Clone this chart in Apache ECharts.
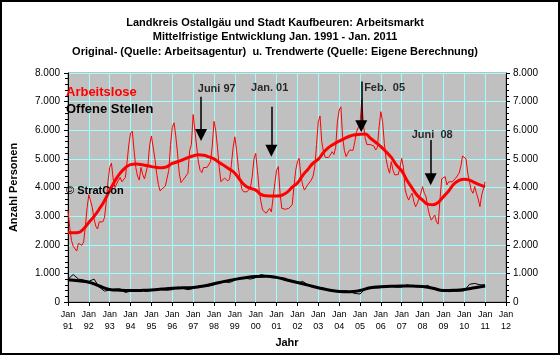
<!DOCTYPE html>
<html><head><meta charset="utf-8">
<script src="https://cdn.jsdelivr.net/npm/echarts@6/dist/echarts.min.js"></script>
<style>html,body{margin:0;padding:0;background:#fff}#c{width:560px;height:355px}</style>
</head><body><div id="c"></div>
<script>
const titleLines = [
  'Landkreis Ostallgäu und Stadt Kaufbeuren: Arbeitsmarkt',
  'Mittelfristige Entwicklung Jan. 1991 - Jan. 2011',
  'Original- (Quelle: Arbeitsagentur)  u. Trendwerte (Quelle: Eigene Berechnung)'
];
const startYear = 1991;
const endYear = 2012;
// monthly, Jan 1991 .. Jan 2011
const arbeitslose = [
  3200, 2600, 2150, 1950, 1900, 1780, 2050, 2000, 1980, 2100, 2650, 3300,
  3750, 3800, 3300, 2900, 2650, 2550, 2800, 2850, 2800, 2950, 3500, 4200,
  4700, 4850, 4300, 4000, 4050, 4250, 4350, 4200, 4200, 4350, 4900, 5500,
  5900, 5970, 5300, 4700, 4400, 4260, 4700, 4450, 4300, 4350, 4800, 5500,
  5800, 5860, 5000, 4500, 4100, 3880, 3950, 4000, 4050, 4100, 4600, 5500,
  6100, 6260, 5800, 5200, 4500, 4170, 4250, 4330, 4350, 4500, 5300, 5500,
  6550, 6600, 5450, 4900, 4600, 4520, 4700, 4750, 4700, 4680, 4900, 5450,
  6310, 6000, 5400, 4700, 4200, 4250, 4330, 4300, 4230, 4300, 4800, 5400,
  5770, 5300, 4700, 4300, 3950, 3850, 3800, 3850, 3910, 4000, 4400, 5000,
  5190, 4600, 3910, 3500, 3210, 3150, 3100, 3150, 3270, 3150, 3100, 4150,
  4600, 4730, 3800, 3270, 3250, 3240, 3280, 3270, 3300, 3400, 4030, 4600,
  4900, 5020, 4400, 4090, 3910, 3950, 4100, 4150, 4260, 4400, 4730, 5500,
  6300, 6500, 5600, 5250, 5050, 5000, 5050, 5100, 5250, 5150, 5400, 6300,
  6700, 6820, 5770, 5300, 5080, 5200, 5310, 5370, 5300, 5600, 5950, 6100,
  6180, 7080, 6180, 5720, 5500, 5450, 5500, 5540, 5450, 5310, 5400, 6130,
  6650, 6300, 5540, 5000, 4700, 4500, 4900, 4600, 4440, 4500, 4450, 4700,
  5020, 4700, 3910, 3700, 3560, 3700, 3800, 3500, 3330, 3450, 3620, 3800,
  4030, 3800, 3680, 3300, 3040, 2860, 2900, 3040, 2800, 2720, 3560, 4300,
  4330, 4380, 4090, 4200, 4260, 4200, 4250, 4320, 4350, 4500, 4730, 5100,
  5140, 5000, 4500, 4200, 3900, 3800, 4030, 3800, 3600, 3330, 3740, 3950,
  4200
];
// quarterly (Jan, Apr, Jul, Oct), Jan 1991 .. Jan 2011
const arbeitsloseTrend = [
  2430, 2420, 2430, 2560,
  2780, 2990, 3250, 3540,
  3900, 4230, 4500, 4690,
  4800, 4820, 4800, 4770,
  4730, 4700, 4690, 4730,
  4840, 4900, 4970, 5040,
  5100, 5140, 5130, 5070,
  5000, 4870, 4760, 4640,
  4500, 4260, 4060, 3970,
  3910, 3760, 3710, 3700,
  3700, 3730, 3830, 4010,
  4160, 4420, 4630, 4850,
  4990, 5220, 5400, 5520,
  5620, 5710, 5790, 5840,
  5860, 5870, 5720, 5580,
  5430, 5250, 5050, 4780,
  4580, 4250, 3980, 3720,
  3560, 3420, 3400, 3480,
  3680, 3880, 4120, 4250,
  4290, 4260, 4170, 4090,
  4030
];
// quarterly, Jan 1991 .. Jan 2011
const offeneStellen = [
  800, 960, 800, 770,
  720, 800, 520, 380,
  420, 450, 460, 330,
  380, 420, 420, 370,
  400, 450, 430, 410,
  430, 520, 480, 430,
  470, 560, 560, 560,
  600, 700, 700, 680,
  760, 850, 830, 800,
  850, 960, 920, 850,
  850, 830, 760, 700,
  660, 720, 600, 530,
  500, 480, 410, 380,
  350, 400, 360, 300,
  280, 450, 500, 490,
  500, 580, 560, 520,
  520, 600, 560, 540,
  530, 580, 470, 420,
  400, 360, 380, 380,
  390, 620, 650, 600,
  600
];
// half-yearly (Jan, Jul), Jan 1991 .. Jan 2011
const offeneTrend = [
  780, 740, 690, 560, 440, 410, 400, 405, 420, 450,
  480, 495, 510, 560, 640, 720, 790, 850, 890, 900,
  860, 770, 680, 590, 500, 420, 370, 360, 400, 500,
  530, 550, 560, 555, 540, 480, 400, 410, 440, 500,
  560
];
const yMax = 8000, yStep = 1000;
// annotations
const noteTexts = ['Juni 97', 'Jan. 01', 'Feb.  05', 'Juni  08'];
const noteX = [1998.13, 2000.67, 2006.18, 2008.46];
const noteY = [7440, 7480, 7480, 5830];
const arrowX = [1997.38, 2000.75, 2005.06, 2008.39];
const arrowFrom = [7170, 6820, 7700, 5660];
const arrowTo = [5830, 5280, 6140, 4290];

const F = "'Liberation Sans', Arial, sans-serif";
const series = (arr, step) => arr.map((v, i) => [startYear + i * step, v]);
const fmtY = v => v === 0 ? '0' : (v / 1000) + '.000';

const chart = echarts.init(document.getElementById('c'), null, {renderer: 'canvas'});
chart.setOption({
  animation: false,
  backgroundColor: '#fff',
  textStyle: {fontFamily: F},
  graphic: [
    {type: 'rect', shape: {x: 1, y: 1, width: 558, height: 353}, style: {fill: 'none', stroke: '#000', lineWidth: 2}, z: 100},
    ...titleLines.map((t, i) => ({type: 'text', x: 275, y: 22.5 + i * 14.8,
      style: {text: t, fontFamily: F, fontSize: 11, fontWeight: 'bold', fill: '#000', textAlign: 'center', textVerticalAlign: 'middle'}})),
    {type: 'text', x: 66, y: 92.5, z: 50, style: {text: 'Arbeitslose', fontFamily: F, fontSize: 13, fontWeight: 'bold', fill: '#ff0000', textVerticalAlign: 'middle'}},
    {type: 'text', x: 66, y: 109.5, z: 50, style: {text: 'Offene Stellen', fontFamily: F, fontSize: 13, fontWeight: 'bold', fill: '#000', textVerticalAlign: 'middle'}},
    {type: 'text', x: 66, y: 191, z: 50, style: {text: '© StratCon', fontFamily: F, fontSize: 11, fontWeight: 'bold', fill: '#000', textVerticalAlign: 'middle'}}
  ],
  grid: {left: 64, right: 54, top: 73, bottom: 53, show: true, backgroundColor: '#c0c0c0', borderColor: '#808080', borderWidth: 1},
  xAxis: {
    type: 'value', min: startYear, max: endYear, interval: 1,
    name: 'Jahr', nameLocation: 'middle', nameGap: 35,
    nameTextStyle: {fontFamily: F, fontSize: 11, fontWeight: 'bold', color: '#000'},
    axisLine: {lineStyle: {color: '#000', width: 1}},
    axisTick: {show: true, length: 4, lineStyle: {color: '#000'}},
    axisLabel: {fontFamily: F, fontSize: 9, color: '#000', lineHeight: 12, margin: 7,
      formatter: v => 'Jan\n' + String(v % 100).padStart(2, '0')},
    splitLine: {show: true, lineStyle: {color: '#99ffff', width: 1}}
  },
  yAxis: [
    {type: 'value', min: 0, max: yMax, interval: yStep, position: 'left',
      name: 'Anzahl Personen', nameLocation: 'middle', nameGap: 49, nameRotate: 90,
      nameTextStyle: {fontFamily: F, fontSize: 11, fontWeight: 'bold', color: '#000'},
      axisLine: {show: true, lineStyle: {color: '#000'}},
      axisTick: {show: true, length: 4, lineStyle: {color: '#000'}},
      minorTick: {show: true, splitNumber: 5, length: 3, lineStyle: {color: '#000'}},
      axisLabel: {fontFamily: F, fontSize: 10, color: '#000', margin: 8, formatter: fmtY},
      splitLine: {show: true, lineStyle: {color: '#99ffff', width: 1}}},
    {type: 'value', min: 0, max: yMax, interval: yStep, position: 'right',
      axisLine: {show: true, lineStyle: {color: '#000'}},
      axisTick: {show: true, length: 4, lineStyle: {color: '#000'}},
      minorTick: {show: true, splitNumber: 5, length: 3, lineStyle: {color: '#000'}},
      axisLabel: {fontFamily: F, fontSize: 10, color: '#000', margin: 7, formatter: fmtY},
      splitLine: {show: false}}
  ],
  series: [
    {type: 'line', name: 'Offene Stellen', data: series(offeneStellen, 0.25), showSymbol: false, symbol: 'none',
      lineStyle: {color: '#000', width: 1}, z: 2},
    {type: 'line', name: 'Offene Stellen Trend', data: series(offeneTrend, 0.5), smooth: true, showSymbol: false, symbol: 'none',
      lineStyle: {color: '#000', width: 3}, z: 3},
    {type: 'line', name: 'Arbeitslose', data: series(arbeitslose, 1 / 12), showSymbol: false, symbol: 'none',
      lineStyle: {color: '#ff0000', width: 1}, z: 4},
    {type: 'line', name: 'Arbeitslose Trend', data: series(arbeitsloseTrend, 0.25), smooth: true, showSymbol: false, symbol: 'none',
      lineStyle: {color: '#ff0000', width: 3}, z: 5,
      markLine: {silent: true, symbol: ['none', 'triangle'], symbolSize: 12, animation: false,
        itemStyle: {color: '#000'},
        lineStyle: {color: '#000', width: 1.5, type: 'solid'}, label: {show: false},
        data: arrowX.map((x, i) => [{coord: [x, arrowFrom[i]]}, {coord: [x, arrowTo[i]]}])}},
    {type: 'scatter', name: 'notes', symbolSize: 0, silent: true, z: 10,
      data: noteX.map((x, i) => [x, noteY[i], noteTexts[i]]),
      label: {show: true, position: [0, 0], align: 'center', verticalAlign: 'middle',
        formatter: p => p.data[2], fontFamily: F, fontSize: 11, fontWeight: 'bold', color: '#000'}}
  ]
});
</script></body></html>
